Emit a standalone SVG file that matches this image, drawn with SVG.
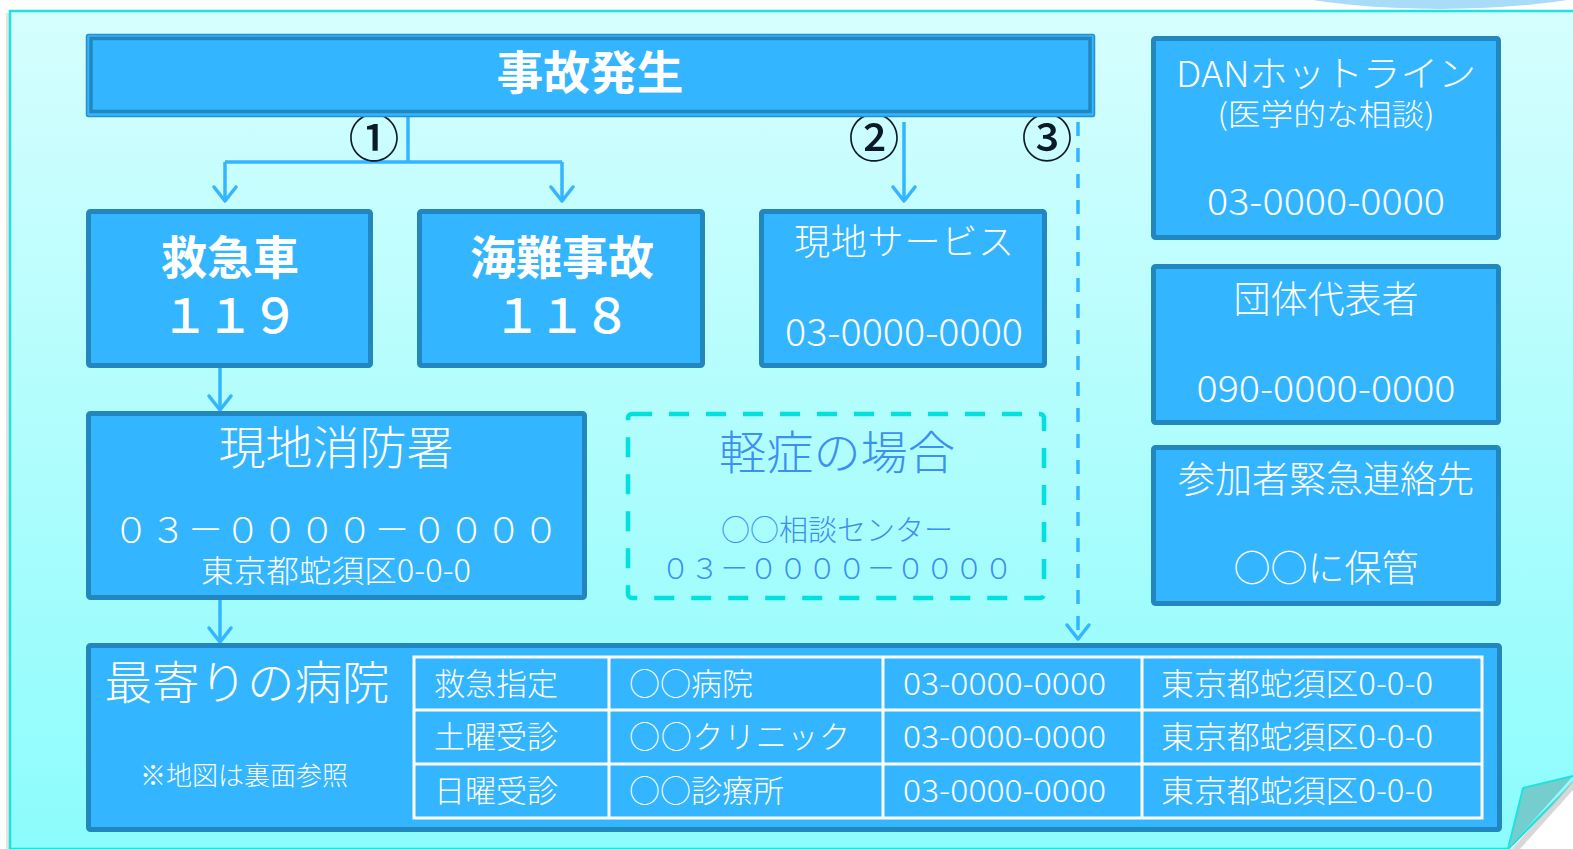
<svg xmlns="http://www.w3.org/2000/svg" width="1573" height="849" viewBox="0 0 1573 849">
<defs>
<linearGradient id="bg" x1="0" y1="0" x2="0" y2="1">
<stop offset="0" stop-color="#d6fefe"/>
<stop offset="1" stop-color="#8cfcfc"/>
</linearGradient>
<marker id="arr" viewBox="0 0 18 26" refX="16" refY="13" markerWidth="18" markerHeight="26" markerUnits="userSpaceOnUse" orient="auto" overflow="visible">
<path d="M2,2 L16,13 L2,24" fill="none" stroke="#33b5ff" stroke-width="3.5" stroke-linecap="round" stroke-linejoin="round"/>
</marker>
<style>
text{font-family:'Noto Sans CJK JP','Noto Sans',sans-serif;fill:#fff;text-anchor:middle}
.box{fill:#33b5ff;stroke:#2387bf;stroke-width:5}
.lt{font-weight:300}
.b{font-weight:bold}
.md{font-weight:500}
.con{fill:none;stroke:#33b5ff;stroke-width:3.5}
.num{fill:#0a1a28;font-size:51px;font-weight:500}
.tc{text-anchor:start;font-size:31px;font-weight:300}
.blue{fill:#3d8ff0}
</style>
</defs>
<rect width="1573" height="849" fill="#fff"/>
<ellipse cx="1440" cy="-50" rx="240" ry="59" fill="#a8dcf8"/>
<rect x="6" y="13" width="6" height="840" fill="#e4e4e4"/>
<path d="M10,11 H1580 V776 L1508,849 H10 Z" fill="url(#bg)" stroke="#1ee3dc" stroke-width="2.5"/>
<path d="M1573,782 L1516,849 H1573 Z" fill="#ffffff"/>
<path d="M1573,780 L1512,849 L1520,849 L1573,790 Z" fill="#bdbdbd" opacity="0.6"/>
<path d="M1508,849 L1523,788 L1573,776" fill="#76cdcd" stroke="#1ee3dc" stroke-width="2"/>

<g id="connectors">
<path class="con" d="M408,117 V162 M225,162 H562"/>
<path class="con" d="M225,162 V201" marker-end="url(#arr)"/>
<path class="con" d="M562,162 V201" marker-end="url(#arr)"/>
<path class="con" d="M904,122 V201" marker-end="url(#arr)"/>
<path class="con" d="M1078,122 V639" stroke-dasharray="14 12" marker-end="url(#arr)"/>
<path class="con" d="M220,368 V410" marker-end="url(#arr)"/>
<path class="con" d="M220,600 V642" marker-end="url(#arr)"/>
<text class="num" x="374" y="157">①</text>
<text class="num" x="874" y="157">②</text>
<text class="num" x="1047" y="157">③</text>
</g>

<g id="accident">
<rect x="86.5" y="34.5" width="1008" height="82" rx="2" fill="#33b5ff" stroke="#2a8fd0" stroke-width="1.5"/>
<rect x="91" y="38.5" width="999" height="73" fill="none" stroke="#2387bf" stroke-width="3.5"/>
<text x="590" y="89" font-size="46" class="b" textLength="187" lengthAdjust="spacingAndGlyphs">事故発生</text>
</g>

<g id="ambulance">
<rect class="box" x="88.5" y="211.5" width="282" height="154" rx="2"/>
<text x="230" y="274" font-size="46" class="b">救急車</text>
<text x="230" y="333" font-size="48" class="md" textLength="138" lengthAdjust="spacing">１１９</text>
</g>

<g id="marine">
<rect class="box" x="419.5" y="211.5" width="283" height="154" rx="2"/>
<text x="562" y="274" font-size="46" class="b">海難事故</text>
<text x="562" y="333" font-size="48" class="md" textLength="138" lengthAdjust="spacing">１１８</text>
</g>

<g id="local-service">
<rect class="box" x="761.5" y="211.5" width="283" height="154" rx="2"/>
<text x="904" y="255" font-size="36" class="lt" textLength="220" lengthAdjust="spacing">現地サービス</text>
<text x="904" y="346" font-size="38" class="lt" textLength="238" lengthAdjust="spacingAndGlyphs">03-0000-0000</text>
</g>

<g id="fire-station">
<rect class="box" x="88.5" y="413.5" width="496" height="184" rx="2"/>
<text x="336" y="464" font-size="46" class="lt" textLength="235" lengthAdjust="spacingAndGlyphs">現地消防署</text>
<text x="336" y="543" font-size="36" class="lt" textLength="446" lengthAdjust="spacing">０３－００００－００００</text>
<text x="336" y="582" font-size="31" class="lt" textLength="270" lengthAdjust="spacingAndGlyphs">東京都蛇須区0-0-0</text>
</g>

<g id="mild">
<rect x="628" y="414" width="416" height="184" rx="4" fill="none" stroke="#00e0dc" stroke-width="4.5" stroke-dasharray="20 17"/>
<text x="837" y="469" font-size="46" class="lt blue" textLength="236" lengthAdjust="spacingAndGlyphs">軽症の場合</text>
<text x="837" y="541" font-size="29" class="lt blue">○○相談センター</text>
<text x="837" y="579" font-size="29" class="lt blue" textLength="352" lengthAdjust="spacing">０３－００００－００００</text>
</g>

<g id="dan">
<rect class="box" x="1153.5" y="38.5" width="345" height="199" rx="2"/>
<text x="1326" y="87" font-size="36" class="lt" textLength="300" lengthAdjust="spacingAndGlyphs">DANホットライン</text>
<text x="1326" y="125" font-size="30" class="lt" textLength="217" lengthAdjust="spacingAndGlyphs">(医学的な相談)</text>
<text x="1326" y="215" font-size="37" class="lt" textLength="238" lengthAdjust="spacingAndGlyphs">03-0000-0000</text>
</g>

<g id="leader">
<rect class="box" x="1153.5" y="266.5" width="345" height="156" rx="2"/>
<text x="1326" y="313" font-size="37" class="lt">団体代表者</text>
<text x="1326" y="402" font-size="37" class="lt" textLength="259" lengthAdjust="spacingAndGlyphs">090-0000-0000</text>
</g>

<g id="emergency-contact">
<rect class="box" x="1153.5" y="447.5" width="345" height="156" rx="2"/>
<text x="1326" y="493" font-size="37" class="lt">参加者緊急連絡先</text>
<text x="1326" y="582" font-size="37" class="lt">○○に保管</text>
</g>

<g id="hospital">
<rect class="box" x="88.5" y="645.5" width="1411" height="184" rx="2"/>
<text x="247" y="699" font-size="46" class="lt" textLength="285" lengthAdjust="spacingAndGlyphs">最寄りの病院</text>
<text x="244" y="785" font-size="26" class="lt">※地図は裏面参照</text>
<g fill="none" stroke="#fff" stroke-width="3">
<rect x="414" y="657" width="1068" height="161"/>
<path d="M414,710 H1482 M414,764 H1482 M609,657 V818 M883,657 V818 M1142,657 V818"/>
</g>
<text class="tc" x="434" y="695">救急指定</text>
<text class="tc" x="629" y="695">○○病院</text>
<text class="tc" x="903" y="695" textLength="203" lengthAdjust="spacingAndGlyphs">03-0000-0000</text>
<text class="tc" x="1161" y="695" textLength="272" lengthAdjust="spacingAndGlyphs">東京都蛇須区0-0-0</text>
<text class="tc" x="434" y="748">土曜受診</text>
<text class="tc" x="629" y="748" textLength="221" lengthAdjust="spacing">○○クリニック</text>
<text class="tc" x="903" y="748" textLength="203" lengthAdjust="spacingAndGlyphs">03-0000-0000</text>
<text class="tc" x="1161" y="748" textLength="272" lengthAdjust="spacingAndGlyphs">東京都蛇須区0-0-0</text>
<text class="tc" x="434" y="802">日曜受診</text>
<text class="tc" x="629" y="802">○○診療所</text>
<text class="tc" x="903" y="802" textLength="203" lengthAdjust="spacingAndGlyphs">03-0000-0000</text>
<text class="tc" x="1161" y="802" textLength="272" lengthAdjust="spacingAndGlyphs">東京都蛇須区0-0-0</text>
</g>
</svg>
